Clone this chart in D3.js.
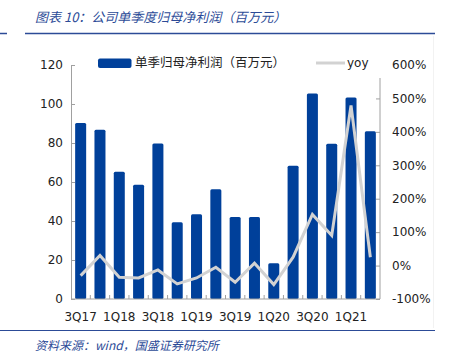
<!DOCTYPE html>
<html>
<head>
<meta charset="utf-8">
<script src="https://cdn.jsdelivr.net/npm/d3@7"></script>
<style>
  body { margin: 0; background: #fff; }
  svg text { font-family: "DejaVu Sans", sans-serif; }
  .cjk { font-family: "Noto Sans CJK SC", sans-serif; }
</style>
</head>
<body>
<svg width="450" height="354"></svg>
<script>
"use strict";

const quarters = ['3Q17','4Q17','1Q18','2Q18','3Q18','4Q18','1Q19','2Q19','3Q19','4Q19','1Q20','2Q20','3Q20','4Q20','1Q21','2Q21']
const profit = [90.3, 86.8, 65.3, 58.6, 79.8, 39.3, 43.5, 56.3, 42, 42, 18.3, 68.3, 105.4, 79.6, 103.3, 86]
const yoy = [-30, 30, -35, -37, -13, -55, -37, -5, -50, 7, -57, 25, 153, 90, 479, 25]
const leftTicks = [0, 20, 40, 60, 80, 100, 120]
const rightTicks = [-100, 0, 100, 200, 300, 400, 500, 600]
const shownLabels = ['3Q17','1Q18','3Q18','1Q19','3Q19','1Q20','3Q20','1Q21']

const svg = d3.select('svg')
const blue = '#00409a', grey = '#d2d2d2', axisCol = '#a0a0a0', titleCol = '#2c4b97'
const L = 71, R = 380, T = 65, B = 299

const x = d3.scaleBand().domain(quarters).range([L, R]).paddingInner(0.43).paddingOuter(0.215)
const xb = d3.scaleBand().domain(quarters).range([L, R])
const yL = d3.scaleLinear().domain([0, 120]).range([B, T])
const yR = d3.scaleLinear().domain([-100, 600]).range([B, T])

// title + rules
svg.append('text').attr('class', 'cjk').attr('x', 35).attr('y', 22)
	.attr('font-size', 13).attr('font-style', 'italic').attr('fill', titleCol)
	.text('图表 10：公司单季度归母净利润（百万元）')
svg.append('line').attr('x1', 25).attr('x2', 435).attr('y1', 33.5).attr('y2', 33.5)
	.attr('stroke', titleCol).attr('stroke-width', 1.5)
svg.append('line').attr('x1', 0).attr('x2', 7).attr('y1', 33.5).attr('y2', 33.5)
	.attr('stroke', titleCol).attr('stroke-width', 1.5)
svg.append('line').attr('x1', 433.5).attr('x2', 433.5).attr('y1', 36).attr('y2', 328)
	.attr('stroke', '#f2f2f2')
svg.append('line').attr('x1', 0).attr('x2', 435).attr('y1', 330.5).attr('y2', 330.5)
	.attr('stroke', titleCol).attr('stroke-width', 1.2)
svg.append('text').attr('class', 'cjk').attr('x', 35).attr('y', 350)
	.attr('font-size', 12).attr('font-style', 'italic').attr('fill', titleCol)
	.text('资料来源：wind，国盛证券研究所')

// bars
svg.append('g').selectAll('rect').data(profit).enter().append('rect')
	.attr('x', (d, i) => x(quarters[i]))
	.attr('width', x.bandwidth())
	.attr('y', d => yL(d))
	.attr('height', d => yL(0) - yL(d))
	.attr('rx', 1.5)
	.attr('fill', blue)

// yoy line
svg.append('path').datum(yoy)
	.attr('d', d3.line().x((d, i) => x(quarters[i]) + x.bandwidth() / 2).y(d => yR(d)))
	.attr('fill', 'none').attr('stroke', grey).attr('stroke-width', 3)

// axes
const styleAxis = g => {
	g.select('.domain').attr('stroke', axisCol)
	g.selectAll('.tick line').attr('stroke', axisCol)
	g.selectAll('.tick text').attr('fill', '#222').attr('font-size', 12).attr('font-family', '"DejaVu Sans", sans-serif')
}
svg.append('g').attr('transform', `translate(${L},0)`)
	.call(d3.axisLeft(yL).tickValues(leftTicks).tickSize(-4).tickPadding(8).tickSizeOuter(0))
	.call(styleAxis)
const rg = svg.append('g').attr('transform', `translate(${R},0)`)
	.call(d3.axisRight(yR).tickValues(rightTicks).tickFormat(d => d + '%').tickSize(-4).tickPadding(12).tickSizeOuter(0))
	.call(styleAxis)
rg.select('.tick:last-of-type line').remove()
rg.select('.domain').remove()
rg.append('line').attr('y1', 78).attr('y2', B).attr('stroke', axisCol)

const xg = svg.append('g').attr('transform', `translate(0,${B})`)
xg.append('line').attr('x1', L).attr('x2', R).attr('stroke', axisCol)
xg.selectAll('line.t').data(quarters.slice(1)).enter().append('line')
	.attr('x1', d => xb(d)).attr('x2', d => xb(d)).attr('y1', 0).attr('y2', -4).attr('stroke', axisCol)
xg.selectAll('text').data(shownLabels).enter().append('text')
	.attr('x', d => x(d) + x.bandwidth() / 2).attr('y', 22)
	.attr('text-anchor', 'middle').attr('font-size', 12).attr('fill', '#222')
	.text(d => d)

// legend
svg.append('rect').attr('x', 98).attr('y', 58.5).attr('width', 33.5).attr('height', 9.5).attr('rx', 2).attr('fill', blue)
svg.append('text').attr('class', 'cjk').attr('x', 135).attr('y', 67).attr('font-size', 12.5).attr('fill', '#222')
	.text('单季归母净利润（百万元）')
svg.append('line').attr('x1', 316).attr('x2', 345).attr('y1', 63).attr('y2', 63).attr('stroke', grey).attr('stroke-width', 3)
svg.append('text').attr('x', 347).attr('y', 67).attr('font-size', 12).attr('fill', '#222').text('yoy')
</script>
</body>
</html>
